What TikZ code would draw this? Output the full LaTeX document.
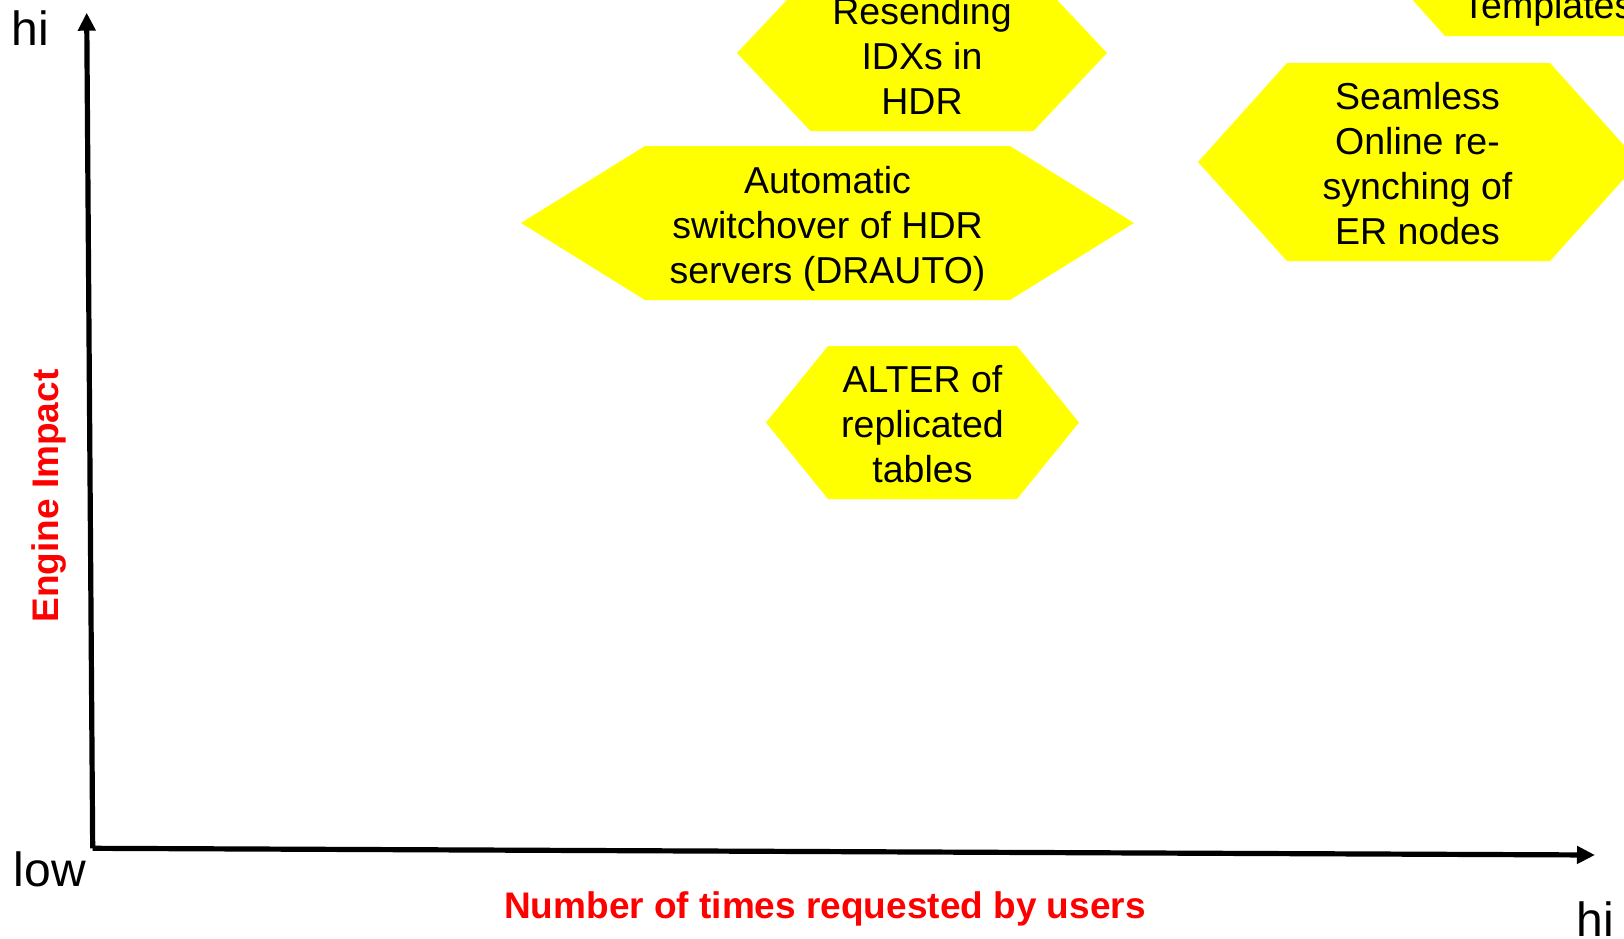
\documentclass[tikz,border=0pt]{standalone}
\usepackage{fontspec}
\setmainfont{Liberation Sans}
\usetikzlibrary{arrows.meta}

\definecolor{hexyellow}{RGB}{255,255,0}
\definecolor{labelred}{RGB}{255,0,0}

% Flat-topped hexagon: centre x, centre y, half-width of the flat edges,
% half-width to the side points, half-height
\newcommand{\hexband}[5]{%
  \fill[hexfill] ({#1-#3},{#2-#5}) -- ({#1+#3},{#2-#5}) -- ({#1+#4},#2)
    -- ({#1+#3},{#2+#5}) -- ({#1-#3},{#2+#5}) -- ({#1-#4},#2) -- cycle;}

\begin{document}
\begin{tikzpicture}[x=0.5pt,y=-0.5pt,
  axis/.style={line width=2.6pt,-{Triangle[length=9pt,width=8.5pt]}},
  hexfill/.style={fill=hexyellow},
  hextext/.style={align=center,inner sep=0pt,
    font=\fontsize{18.75pt}{22.5pt}\selectfont},
  scalelabel/.style={inner sep=0pt,font=\fontsize{24pt}{28pt}\selectfont},
  axistitle/.style={inner sep=0pt,text=labelred,
    font=\fontsize{18.5pt}{22pt}\selectfont\bfseries}]
\useasboundingbox (0,0) rectangle (1624,938);
\clip (0,0) rectangle (1624,938);

% feature hexagons
\hexband{922}{53}{111.5}{185}{78}
\hexband{827.5}{223}{182.5}{306.5}{77}
\hexband{922.5}{422.5}{94.5}{156.5}{76.5}
\hexband{1418.5}{162}{131.5}{220.5}{99}
\hexband{1576.5}{-63}{131.5}{220.5}{99}

\node[hextext] (resend) at (922,60) {\strut Resending\\IDXs in\\HDR\strut};
\node[hextext] (drauto) at (827.5,229) {\strut Automatic\\switchover of HDR\\servers (DRAUTO)\strut};
\node[hextext] (alter) at (922.5,428.5) {\strut ALTER of\\replicated\\tables\strut};
\node[hextext] (resync) at (1417.5,168) {\strut Seamless\\Online re-\\synching of\\ER nodes\strut};
\node[hextext,anchor=base west] (templ) at (1462,18) {Templates};

% axes
\coordinate (origin) at (92.7,848.3);
\coordinate (ytip) at (86.7,12.7);
\coordinate (xtip) at (1595,855);
\draw[axis] (origin) -- (ytip);
\draw[axis] (origin) -- (xtip);

% scale labels
\node[scalelabel,anchor=base west] (yhi) at (11.5,45) {hi};
\node[scalelabel,anchor=base west] (xlow) at (13.5,886.7) {low};
\node[scalelabel,anchor=base west] (xhi) at (1576,936) {hi};

% axis titles
\node[axistitle,anchor=base] (xtitle) at (825,918.5) {Number of times requested by users};
\node[axistitle,anchor=base,rotate=90] (ytitle) at (58.5,496) {Engine Impact};
\end{tikzpicture}
\end{document}
